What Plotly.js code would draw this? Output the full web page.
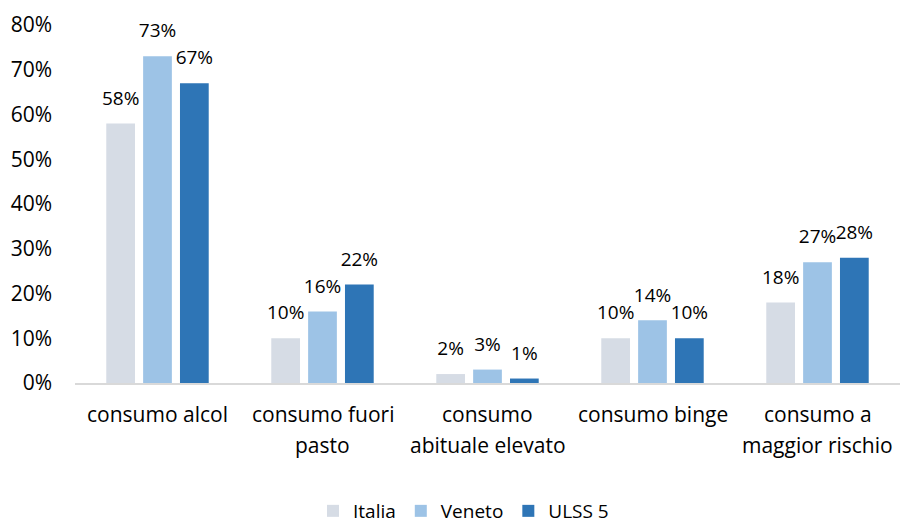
<!DOCTYPE html>
<html><head><meta charset="utf-8">
<script src="https://cdn.plot.ly/plotly-3.0.1.min.js"></script>
<style>body{margin:0}#c{width:900px;height:525px}</style>
</head><body><div id="c"></div>
<script>
const categories = ["consumo alcol", "consumo fuori<br>pasto", "consumo<br>abituale elevato", "consumo binge", "consumo a<br>maggior rischio"];
const italia = [58, 10, 2, 10, 18];
const veneto = [73, 16, 3, 14, 27];
const ulss5 = [67, 22, 1, 10, 28];
const seriesNames = ["Italia", "Veneto", "ULSS 5"];
const colors = ["#D6DCE5", "#9DC3E6", "#2E75B6"];
const yTicks = [0, 10, 20, 30, 40, 50, 60, 70, 80];

const font = "'Open Sans', sans-serif";
const labelGap = 2.2; // spacing (axis units) between bar top and its value label
const series = [italia, veneto, ulss5];
const data = [];
series.forEach((v, i) => {
  data.push({
    type: "bar", x: categories, y: v, name: seriesNames[i],
    offsetgroup: String(i),
    marker: {color: colors[i]}, hoverinfo: "none"
  });
});
series.forEach((v, i) => {
  data.push({
    type: "bar", x: categories, y: v.map(() => labelGap), base: v,
    offsetgroup: String(i), showlegend: false,
    marker: {color: "rgba(0,0,0,0)"}, hoverinfo: "none",
    text: v.map(d => d + "%"), textposition: "outside", cliponaxis: false,
    constraintext: "none",
    textfont: {family: font, size: 19, color: "#000"}
  });
});

// category labels as per-line annotations (wider line spacing than tick labels allow)
const annotations = [];
categories.forEach(c => {
  c.split("<br>").forEach((line, j) => {
    annotations.push({
      x: c, xref: "x", y: 0, yref: "y", text: line, showarrow: false,
      yanchor: "middle", yshift: -31 - 31 * j,
      font: {family: font, size: 21, color: "#000"}
    });
  });
});

Plotly.newPlot("c", data, {
  width: 900, height: 525,
  margin: {l: 75, r: 0, t: 25, b: 142},
  paper_bgcolor: "#fff", plot_bgcolor: "#fff",
  barmode: "group", bargap: 0.33, bargroupgap: 0.22,
  font: {family: font, size: 20, color: "#000"},
  xaxis: {showline: true, linecolor: "#D9D9D9", linewidth: 2, ticks: "", showticklabels: false},
  yaxis: {range: [0, 80], tickvals: yTicks, ticktext: yTicks.map(t => t + "%"), showgrid: false, zeroline: false, showline: false, tickfont: {size: 21}, ticklabelstandoff: 22},
  annotations: annotations,
  showlegend: true,
  legend: {orientation: "h", xref: "container", x: 0.515, xanchor: "center", yref: "container", y: 14 / 525, yanchor: "middle", font: {size: 19}, traceorder: "normal"}
}, {displayModeBar: false, staticPlot: true});
</script></body></html>
